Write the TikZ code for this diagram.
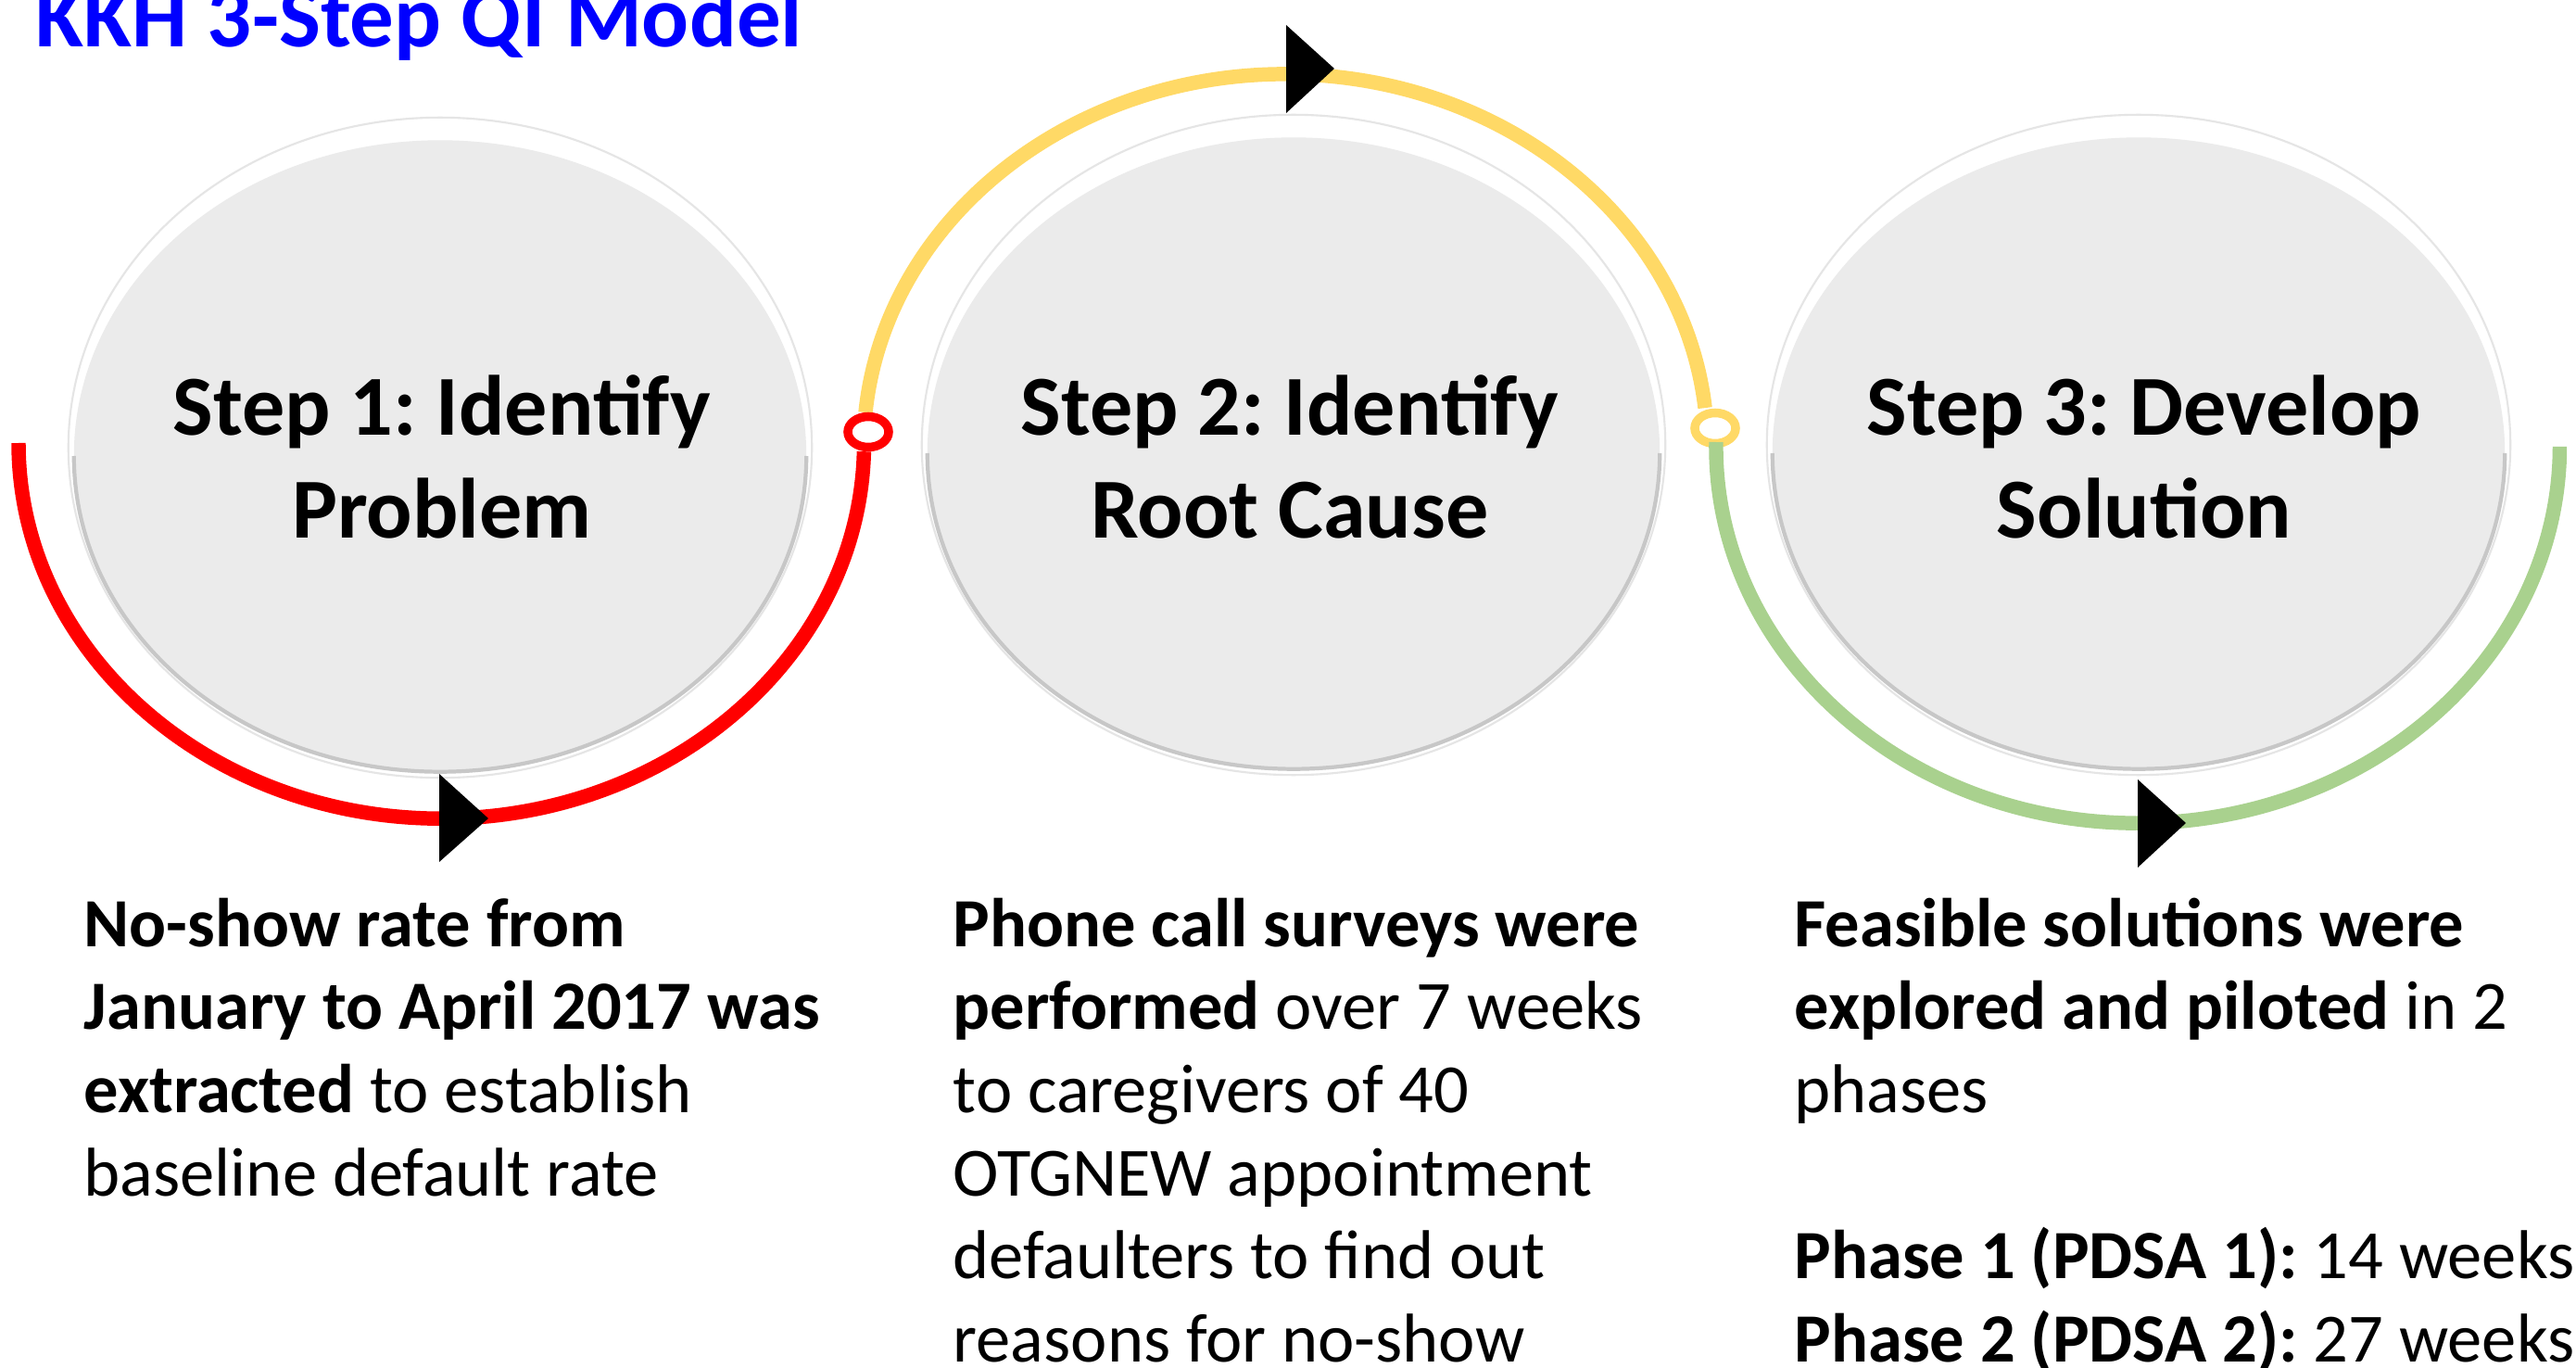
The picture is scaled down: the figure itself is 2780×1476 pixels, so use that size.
\documentclass[tikz,border=0pt]{standalone}
\usepackage{fontspec}
\setmainfont{Carlito}
\usetikzlibrary{shapes.geometric}
\definecolor{qired}{HTML}{FF0000}
\definecolor{qiyellow}{HTML}{FFD966}
\definecolor{qigreen}{HTML}{A9D18E}
\definecolor{qigrey}{HTML}{EBEBEB}
\definecolor{qiblue}{HTML}{0000FF}
\frenchspacing
\begin{document}
\begin{tikzpicture}[x=0.01cm,y=-0.01cm,
  outerdisc/.style={ellipse, draw=black!10, line width=0.6pt, fill=white,
    minimum width=8.02cm, minimum height=7.12cm, inner sep=0, outer sep=0},
  innerdisc/.style={ellipse, fill=qigrey, minimum width=7.9cm, minimum height=6.81cm,
    inner sep=0, outer sep=0},
  shadowline/.style={draw=black!22, line width=1.2pt},
  steplabel/.style={anchor=base, inner sep=0, font=\fontsize{26.2}{31.3}\selectfont\bfseries},
  bodytext/.style={anchor=base west, inner sep=0, font=\fontsize{21.2}{25.5}\selectfont},
  arcline/.style={line width=4.4pt},
  ring/.style={ellipse, fill=white, line width=2.7pt, minimum width=0.44cm,
    minimum height=0.33cm, inner sep=0, outer sep=0},
  tri/.style={fill=black}]
\useasboundingbox (0,0) rectangle (2780,1476);
\fill[white] (0,0) rectangle (2780,1476);

% title
\node[anchor=base west, inner sep=0, text=qiblue, font=\fontsize{27}{32}\selectfont\bfseries]
  (title) at (38,51) {KKH 3-Step QI Model};

% discs
\node[outerdisc] (c1) at (475,483) {};
\node[outerdisc] (c2) at (1396,480) {};
\node[outerdisc] (c3) at (2308,480) {};
\node[innerdisc] (i1) at (475,492) {};
\node[innerdisc] (i2) at (1396,489) {};
\node[innerdisc] (i3) at (2308,489) {};
\draw[shadowline] (i1.west) arc[start angle=180, end angle=360, x radius=3.95cm, y radius=3.405cm];
\draw[shadowline] (i2.west) arc[start angle=180, end angle=360, x radius=3.95cm, y radius=3.405cm];
\draw[shadowline] (i3.west) arc[start angle=180, end angle=360, x radius=3.95cm, y radius=3.405cm];

% step labels
\node[steplabel] (s1) at (477,470) {\begin{tabular}[t]{@{}c@{}}Step 1: Identify\\Problem\end{tabular}};
\node[steplabel] (s2) at (1392,470) {\begin{tabular}[t]{@{}c@{}}Step 2: Identify\\Root Cause\end{tabular}};
\node[steplabel] (s3) at (2314,470) {\begin{tabular}[t]{@{}c@{}}Step 3: Develop\\Solution\end{tabular}};

% arc end points
\coordinate (r0) at (20,478);
\coordinate (y0) at (934,445);
\coordinate (g0) at (1852,477);

% arcs
\draw[arcline, qired] (r0) arc[start angle=180, end angle=358.7, x radius=4.56cm, y radius=4.05cm];
\draw[arcline, qiyellow] (y0) arc[start angle=174.7, end angle=6, x radius=4.55cm, y radius=4.02cm];

% rings
\node[ring, draw=qired] (ringR) at (937,466) {};
\node[ring, draw=qiyellow] (ringY) at (1851,462) {};

\draw[arcline, qigreen] (g0) arc[start angle=179.3, end angle=360, x radius=4.55cm, y radius=4.06cm];

% arrowheads
\fill[tri] (474,835) -- (474,930) -- (527,883) -- cycle;
\fill[tri] (1388,27) -- (1388,122) -- (1440,74) -- cycle;
\fill[tri] (2307,841) -- (2307,936) -- (2359,888) -- cycle;

% body texts
\node[bodytext] (t1) at (90,1021) {\begin{tabular}[t]{@{}l@{}}
\textbf{No-show rate from}\\
\textbf{January to April 2017 was}\\
\textbf{extracted} to establish\\
baseline default rate
\end{tabular}};
\node[bodytext] (t2) at (1028,1021) {\begin{tabular}[t]{@{}l@{}}
\textbf{Phone call surveys were}\\
\textbf{performed} over 7 weeks\\
to caregivers of 40\\
OTGNEW appointment\\
defaulters to find out\\
reasons for no-show
\end{tabular}};
\node[bodytext] (t3) at (1936,1021) {\begin{tabular}[t]{@{}l@{}}
\textbf{Feasible solutions were}\\
\textbf{explored and piloted} in 2\\
phases\\
\\
\textbf{Phase 1 (PDSA 1):} 14 weeks\\
\textbf{Phase 2 (PDSA 2):} 27 weeks
\end{tabular}};
\end{tikzpicture}
\end{document}
